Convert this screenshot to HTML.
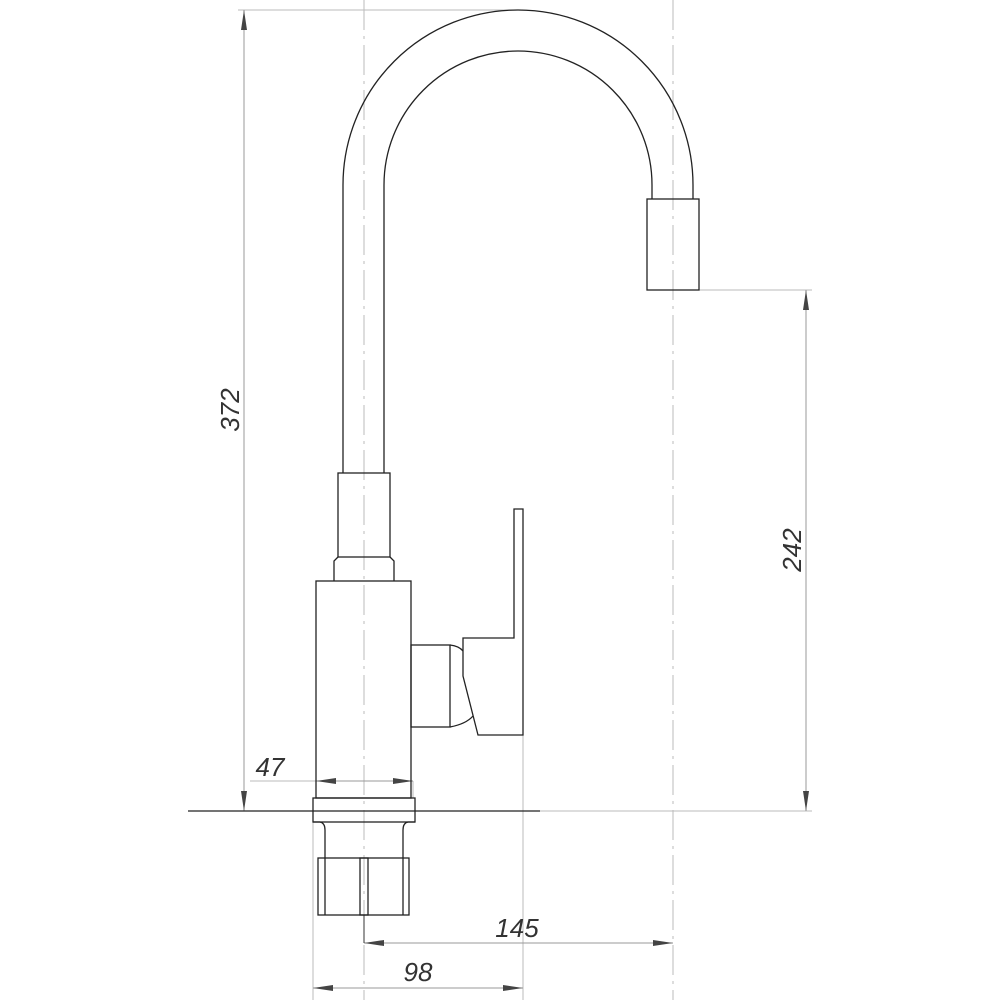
<!DOCTYPE html>
<html><head><style>html,body{margin:0;padding:0;background:#fff}</style></head>
<body>
<svg width="1000" height="1000" viewBox="0 0 1000 1000" xmlns="http://www.w3.org/2000/svg">
<defs>
<marker id="a" viewBox="0 0 20 6" refX="20" refY="3" markerWidth="20" markerHeight="6" orient="auto-start-reverse" markerUnits="userSpaceOnUse"><path d="M0,0 L20,3 L0,6 Z" fill="#444"/></marker>
</defs>
<g stroke="#bbb" stroke-width="1" fill="none">
<line x1="364" y1="0" x2="364" y2="1000" stroke-dasharray="30,6,3,6"/>
<line x1="673" y1="0" x2="673" y2="1000" stroke-dasharray="30,6,3,6"/>
<line x1="238" y1="10" x2="518" y2="10"/>
<line x1="699" y1="290" x2="812" y2="290"/>
<line x1="540" y1="811" x2="812" y2="811"/>
<line x1="250" y1="781" x2="316" y2="781"/>
<line x1="313" y1="822" x2="313" y2="1000"/>
<line x1="523" y1="735" x2="523" y2="1000"/>
<line x1="413" y1="781" x2="413" y2="798"/>
</g>
<g stroke="#999" stroke-width="1" fill="none">
<line x1="244" y1="10" x2="244" y2="811" marker-start="url(#a)" marker-end="url(#a)"/>
<line x1="806" y1="290" x2="806" y2="811" marker-start="url(#a)" marker-end="url(#a)"/>
<line x1="316" y1="781" x2="413" y2="781" marker-start="url(#a)" marker-end="url(#a)"/>
<line x1="364" y1="943" x2="673" y2="943" marker-start="url(#a)" marker-end="url(#a)"/>
<line x1="313" y1="988" x2="523" y2="988" marker-start="url(#a)" marker-end="url(#a)"/>
<line x1="364" y1="915" x2="364" y2="943" stroke="#333"/>
</g>
<g stroke="#222" stroke-width="1.3" fill="none">
<path d="M343,473 L343,185 A175,175 0 0 1 693,185 L693,199"/>
<path d="M384,473 L384,185 A134,134 0 0 1 652,185 L652,199"/>
<rect x="647" y="199" width="52" height="91"/>
<rect x="338" y="473" width="52" height="84"/>
<path d="M338,557 L334,561 L334,581 M390,557 L394,561 L394,581"/>
<rect x="316" y="581" width="95" height="217"/>
<rect x="411" y="645" width="39" height="82"/>
<path d="M450,645 Q459,646 463,651 M450,727 Q466,724 473,716"/>
<path d="M463,638 L514,638 L514,509 L523,509 L523,735 L478,735 L463,676 Z"/>
<line x1="188" y1="811" x2="540" y2="811"/>
<rect x="313" y="798" width="102" height="24"/>
<path d="M313,822 L320,822 Q325,823 325,830 L325,858 M415,822 L408,822 Q403,823 403,830 L403,858"/>
<rect x="318" y="858" width="91" height="57"/>
<line x1="325" y1="858" x2="325" y2="915"/>
<line x1="403" y1="858" x2="403" y2="915"/>
<rect x="360" y="858" width="8" height="57"/>
</g>
<g font-family="Liberation Sans, sans-serif" font-size="26" font-style="italic" fill="#333">
<text x="270" y="776" text-anchor="middle">47</text>
<text x="517" y="937" text-anchor="middle">145</text>
<text x="418" y="981" text-anchor="middle">98</text>
<text transform="translate(239,410) rotate(-90)" text-anchor="middle">372</text>
<text transform="translate(801,550) rotate(-90)" text-anchor="middle">242</text>
</g>
</svg>
</body></html>
